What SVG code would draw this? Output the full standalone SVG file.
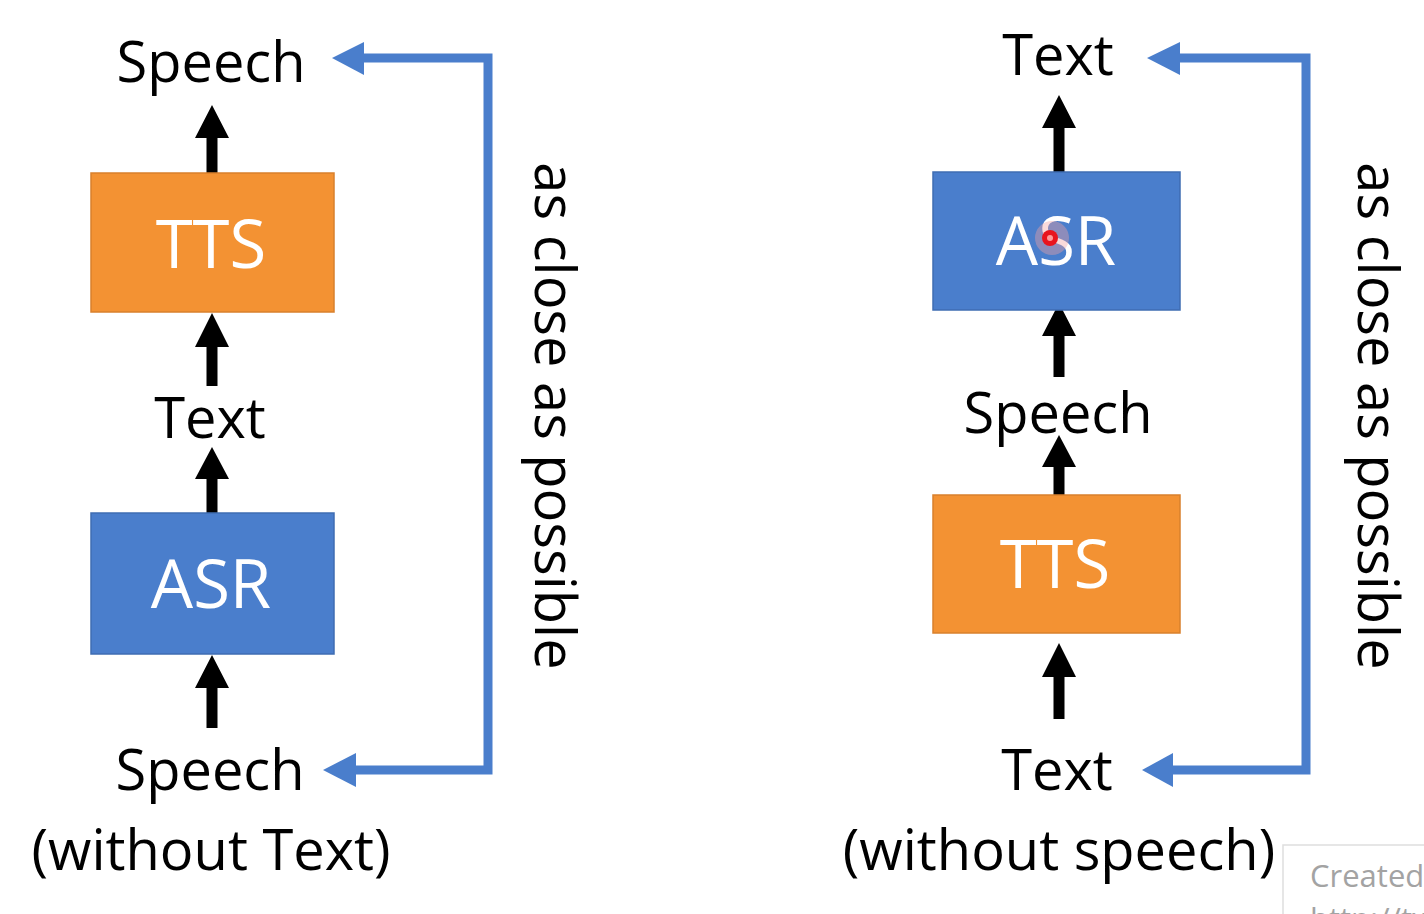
<svg xmlns="http://www.w3.org/2000/svg" width="1424" height="914" viewBox="0 0 1424 914">
  <style>
    .lbl { font-family: "Open Sans", "Noto Sans", "Liberation Sans", sans-serif; font-size: 56px; fill: #000; text-anchor: middle; }
    .box-txt { font-family: "Open Sans", "Noto Sans", "Liberation Sans", sans-serif; font-size: 67px; fill: #fff; text-anchor: middle; }
    .tts { fill: #F39233; stroke: #D9802C; stroke-width: 1.5; }
    .asr { fill: #4A7ECC; stroke: #3F6DB3; stroke-width: 1.5; }
    .arrow { fill: #000; }
    .fb { fill: none; stroke: #4A7ECC; stroke-width: 9; stroke-linejoin: miter; }
    .fbhead { fill: #4A7ECC; }
    .wm { font-family: "Open Sans", "Noto Sans", "Liberation Sans", sans-serif; font-size: 31px; fill: #a3a3a3; }
  </style>
  <rect x="0" y="0" width="1424" height="914" fill="#fff"/>

  <g id="connectors">
    <!-- left black arrows -->
    <path class="arrow" d="M212 105 L229 138 L217.5 138 L217.5 175 L206.5 175 L206.5 138 L195 138 Z"/>
    <path class="arrow" d="M212 313 L229 347 L217.5 347 L217.5 386 L206.5 386 L206.5 347 L195 347 Z"/>
    <path class="arrow" d="M212 447 L229 479 L217.5 479 L217.5 515 L206.5 515 L206.5 479 L195 479 Z"/>
    <path class="arrow" d="M212 655 L229 688 L217.5 688 L217.5 728 L206.5 728 L206.5 688 L195 688 Z"/>
    <!-- right black arrows -->
    <path class="arrow" d="M1059 95 L1076 128 L1064.5 128 L1064.5 174 L1053.5 174 L1053.5 128 L1042 128 Z"/>
    <path class="arrow" d="M1059 303 L1076 336 L1064.5 336 L1064.5 377 L1053.5 377 L1053.5 336 L1042 336 Z"/>
    <path class="arrow" d="M1059 435 L1076 467 L1064.5 467 L1064.5 497 L1053.5 497 L1053.5 467 L1042 467 Z"/>
    <path class="arrow" d="M1059 643 L1076 677 L1064.5 677 L1064.5 719 L1053.5 719 L1053.5 677 L1042 677 Z"/>
    <!-- left feedback -->
    <polyline class="fb" points="362,58 488,58 488,770 355,770"/>
    <polygon class="fbhead" points="332,58 364,42 364,75"/>
    <polygon class="fbhead" points="323,770 356,753 356,787"/>
    <!-- right feedback -->
    <polyline class="fb" points="1178,58 1306,58 1306,770 1171,770"/>
    <polygon class="fbhead" points="1147,58 1180,42 1180,75"/>
    <polygon class="fbhead" points="1142,770 1173,753 1173,787"/>
  </g>

  <g id="left-speech-top"><text class="lbl" x="211" y="82">Speech</text></g>
  <g id="left-tts">
    <rect class="tts" x="91" y="173" width="243" height="139"/>
    <text class="box-txt" x="211" y="268">TTS</text>
  </g>
  <g id="left-text-mid"><text class="lbl" x="210" y="438">Text</text></g>
  <g id="left-asr">
    <rect class="asr" x="91" y="513" width="243" height="141"/>
    <text class="box-txt" x="211" y="608">ASR</text>
  </g>
  <g id="left-speech-bottom">
    <text class="lbl" x="210" y="790">Speech</text>
    <text class="lbl" x="211" y="870">(without Text)</text>
  </g>
  <g id="left-note"><text class="lbl" transform="translate(535,416) rotate(90)" x="0" y="0">as close as possible</text></g>

  <g id="right-text-top"><text class="lbl" x="1058" y="75">Text</text></g>
  <g id="right-asr">
    <rect class="asr" x="933" y="172" width="247" height="138"/>
    <text class="box-txt" x="1056" y="265">ASR</text>
  </g>
  <g id="right-speech-mid"><text class="lbl" x="1058" y="433">Speech</text></g>
  <g id="right-tts">
    <rect class="tts" x="933" y="495" width="247" height="138"/>
    <text class="box-txt" x="1055" y="588">TTS</text>
  </g>
  <g id="right-text-bottom">
    <text class="lbl" x="1057" y="790">Text</text>
    <text class="lbl" x="1059" y="870">(without speech)</text>
  </g>
  <g id="right-note"><text class="lbl" transform="translate(1358,416) rotate(90)" x="0" y="0">as close as possible</text></g>

  <g id="pointer">
    <circle cx="1052" cy="238" r="17" fill="#f3a3a3" opacity="0.4"/>
    <circle cx="1050" cy="238" r="8" fill="#e8141e"/>
    <circle cx="1050" cy="238" r="3" fill="#ff9a9a"/>
  </g>

  <g id="watermark">
    <rect x="1283" y="845" width="160" height="90" fill="#fff" stroke="#dedede" stroke-width="1.5"/>
    <text class="wm" x="1310" y="887">Created</text>
    <text class="wm" x="1310" y="930">http://tw</text>
  </g>
</svg>
